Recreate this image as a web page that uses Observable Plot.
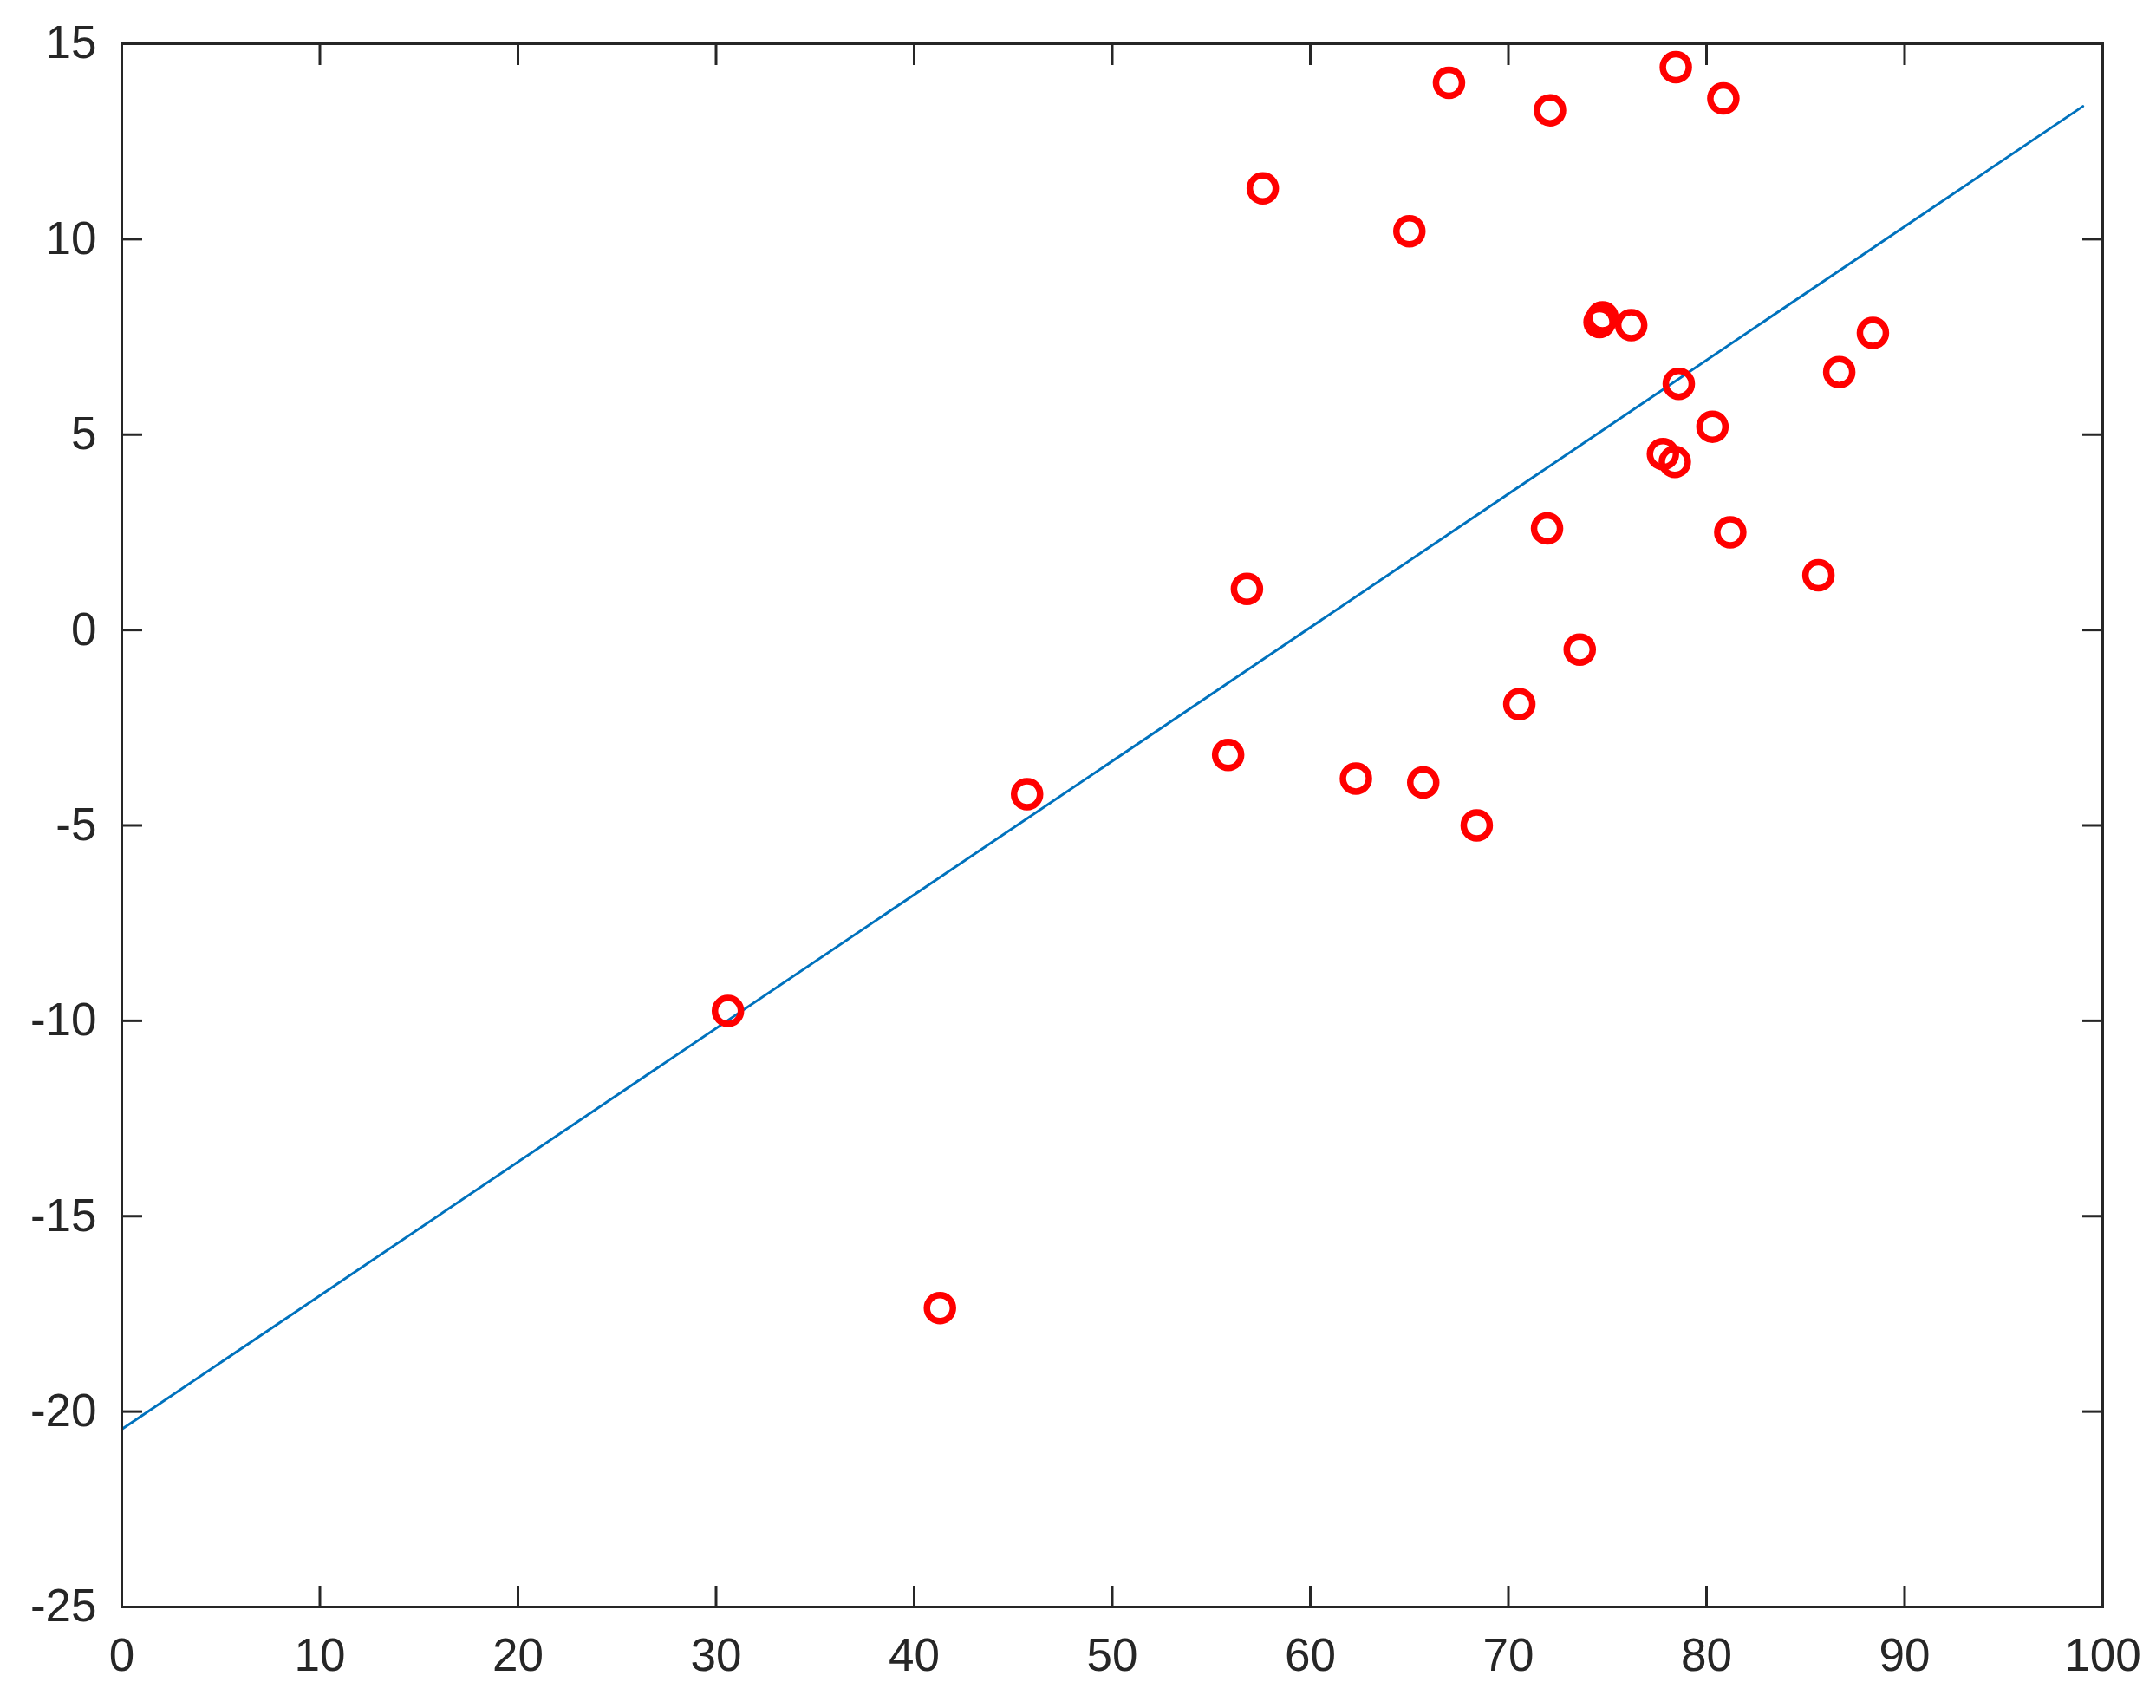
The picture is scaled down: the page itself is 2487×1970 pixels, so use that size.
<!DOCTYPE html>
<html>
<head>
<meta charset="utf-8">
<script src="https://cdn.jsdelivr.net/npm/d3@7"></script>
<script src="https://cdn.jsdelivr.net/npm/@observablehq/plot@0.6"></script>
<style>
  html, body { margin: 0; padding: 0; background: #ffffff; }
  #chart svg { display: block; }
</style>
</head>
<body>
<div id="chart"></div>
<script>
// Scatter points (x, y)
const pointX = [30.6, 41.3, 45.7, 55.85, 56.8, 57.6, 62.3, 65.0, 65.7, 67.0, 68.4, 70.55, 71.95, 72.1, 73.6, 74.6, 74.75, 76.2, 77.8, 78.4, 78.45, 78.6, 80.3, 80.85, 81.2, 85.65, 86.7, 88.4];
const pointY = [-9.75, -17.35, -4.2, -3.2, 1.05, 11.3, -3.8, 10.2, -3.9, 14.0, -5.0, -1.9, 2.6, 13.3, -0.5, 7.88, 8.0, 7.8, 4.5, 4.3, 14.4, 6.3, 5.2, 13.6, 2.5, 1.4, 6.6, 7.6];

// Fitted line endpoints
const fitX = [0, 99];
const fitY = [-20.45, 13.4];

// Axis ticks
const xTicks = [0, 10, 20, 30, 40, 50, 60, 70, 80, 90, 100];
const yTicks = [-25, -20, -15, -10, -5, 0, 5, 10, 15];

const points = pointX.map((x, i) => ({x, y: pointY[i]}));
const fit = fitX.map((x, i) => ({x, y: fitY[i]}));

const axisColor = "#262626";
const fmt = d => String(d); // plain hyphen-minus like the reference

const chart = Plot.plot({
  width: 2487,
  height: 1970,
  marginLeft: 140,
  marginRight: 62,
  marginTop: 50,
  marginBottom: 117,
  style: {
    fontFamily: "'Liberation Sans', Arial, Helvetica, sans-serif",
    fontSize: "53px",
    color: axisColor,
    background: "#ffffff"
  },
  x: {domain: [0, 100]},
  y: {domain: [-25, 15]},
  marks: [
    Plot.line(fit, {x: "x", y: "y", stroke: "#0072BD", strokeWidth: 3}),
    Plot.dot(points, {x: "x", y: "y", r: 15, stroke: "#FF0000", strokeWidth: 7.5, fill: "none"}),
    // tick labels
    Plot.axisX(xTicks, {anchor: "bottom", label: null, tickSize: 0, tickPadding: 36, tickFormat: fmt, fontSize: 53, fill: axisColor}),
    Plot.axisY(yTicks, {anchor: "left", label: null, tickSize: 0, tickPadding: 29, tickFormat: fmt, fontSize: 53, fill: axisColor}),
    // inward ticks on all four sides
    Plot.axisX(xTicks, {anchor: "bottom", label: null, text: null, tickSize: -24, strokeWidth: 3, stroke: axisColor}),
    Plot.axisX(xTicks, {anchor: "top", label: null, text: null, tickSize: -24, strokeWidth: 3, stroke: axisColor}),
    Plot.axisY(yTicks, {anchor: "left", label: null, text: null, tickSize: -24, strokeWidth: 3, stroke: axisColor}),
    Plot.axisY(yTicks, {anchor: "right", label: null, text: null, tickSize: -24, strokeWidth: 3, stroke: axisColor}),
    Plot.frame({stroke: axisColor, strokeWidth: 3})
  ]
});

document.getElementById("chart").appendChild(chart);
</script>
</body>
</html>
